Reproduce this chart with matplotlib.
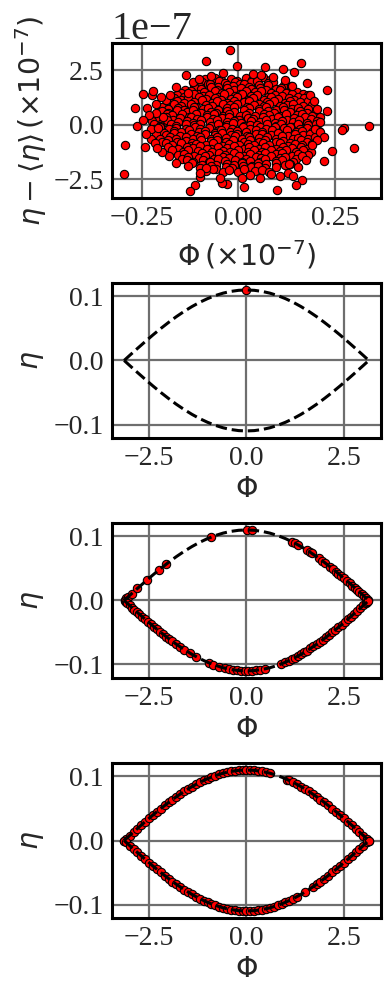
import numpy as np
import matplotlib
matplotlib.use("Agg")
import matplotlib.pyplot as plt

plt.rcParams['font.family'] = 'serif'
plt.rcParams['font.serif'] = ['Liberation Serif', 'DejaVu Serif']
plt.rcParams['mathtext.fontset'] = 'dejavusans'

# ---------------- panel 1 : fluctuation cloud (eta in units of 1e-7) ----------------
noise_phi = [
    -0.085, -0.061, -0.045, -0.018, -0.004, 0.021, 0.037, 0.064, 0.083,
    -0.094, -0.078, -0.050, -0.034, -0.009, 0.006, 0.032, 0.050, 0.077, 0.091,
    -0.114, -0.098, -0.072, -0.053, -0.028, -0.013, 0.014, 0.028, 0.053, 0.076, 0.119, 0.137,
    -0.138, -0.111, -0.095, -0.070, -0.056, -0.029, -0.010, 0.008, 0.033, 0.057, 0.072, 0.098, 0.112, 0.138,
    -0.149, -0.123, -0.105, -0.088, -0.061, -0.041, -0.024, 0.004, 0.020, 0.044, 0.059, 0.084, 0.108, 0.124, 0.151, 0.167,
    -0.157, -0.140, -0.114, -0.091, -0.076, -0.053, -0.036, -0.008, 0.010, 0.034, 0.050, 0.078, 0.095, 0.114, 0.140, 0.154, 0.180,
    -0.165, -0.148, -0.129, -0.102, -0.084, -0.059, -0.045, -0.019, -0.002, 0.025, 0.039, 0.066, 0.085, 0.104, 0.131, 0.145, 0.170, 0.188,
    -0.175, -0.158, -0.140, -0.113, -0.094, -0.069, -0.055, -0.030, -0.012, 0.014, 0.028, 0.055, 0.074, 0.094, 0.120, 0.134, 0.159, 0.181,
    -0.189, -0.165, -0.149, -0.122, -0.108, -0.083, -0.067, -0.040, -0.021, -0.002, 0.024, 0.041, 0.067, 0.081, 0.107, 0.126, 0.143, 0.169, 0.192,
    -0.198, -0.181, -0.155, -0.141, -0.115, -0.091, -0.077, -0.053, -0.030, -0.012, 0.014, 0.028, 0.055, 0.072, 0.099, 0.115, 0.140, 0.155, 0.181,
    -0.198, -0.182, -0.157, -0.133, -0.118, -0.095, -0.071, -0.057, -0.030, -0.012, 0.015, 0.029, 0.053, 0.076, 0.093, 0.119, 0.133, 0.159, 0.178, 0.202,
    -0.209, -0.185, -0.171, -0.145, -0.127, -0.109, -0.081, -0.063, -0.040, -0.024, 0.004, 0.019, 0.043, 0.066, 0.080, 0.107, 0.125, 0.151, 0.166, 0.192,
    -0.213, -0.187, -0.168, -0.151, -0.123, -0.106, -0.080, -0.065, -0.041, -0.024, 0.002, 0.025, 0.038, 0.063, 0.087, 0.103, 0.127, 0.144, 0.172, 0.188, 0.212,
    -0.222, -0.197, -0.183, -0.156, -0.133, -0.118, -0.095, -0.073, -0.056, -0.028, -0.012, 0.007, 0.034, 0.056, 0.072, 0.096, 0.113, 0.141, 0.158, 0.177, 0.203,
    -0.219, -0.201, -0.174, -0.160, -0.134, -0.115, -0.098, -0.070, -0.053, -0.029, -0.013, 0.014, 0.031, 0.050, 0.074, 0.097, 0.111, 0.138, 0.156, 0.181, 0.201,
    -0.218, -0.202, -0.178, -0.162, -0.135, -0.112, -0.098, -0.075, -0.050, -0.032, -0.015, 0.013, 0.030, 0.057, 0.071, 0.096, 0.118, 0.133, 0.161, 0.178, 0.200,
    -0.208, -0.193, -0.165, -0.147, -0.128, -0.101, -0.085, -0.061, -0.045, -0.020, -0.004, 0.021, 0.045, 0.061, 0.088, 0.102, 0.127, 0.149, 0.164, 0.192, 0.209,
    -0.212, -0.186, -0.167, -0.151, -0.122, -0.106, -0.087, -0.061, -0.042, -0.018, -0.004, 0.022, 0.046, 0.061, 0.086, 0.102, 0.130, 0.146, 0.169, 0.185,
    -0.201, -0.176, -0.162, -0.135, -0.116, -0.098, -0.070, -0.055, -0.031, -0.008, 0.010, 0.028, 0.055, 0.074, 0.098, 0.114, 0.141, 0.155, 0.180, 0.198,
    -0.196, -0.182, -0.157, -0.135, -0.120, -0.095, -0.071, -0.055, -0.031, -0.014, 0.015, 0.031, 0.055, 0.070, 0.098, 0.116, 0.135, 0.162, 0.178,
    -0.186, -0.170, -0.147, -0.122, -0.109, -0.082, -0.064, -0.039, -0.024, 0.001, 0.025, 0.040, 0.063, 0.080, 0.107, 0.129, 0.146, 0.165, 0.191,
    -0.181, -0.155, -0.132, -0.116, -0.098, -0.070, -0.052, -0.029, -0.012, 0.015, 0.029, 0.054, 0.070, 0.098, 0.115, 0.139, 0.162, 0.177,
    -0.170, -0.143, -0.129, -0.104, -0.081, -0.067, -0.040, -0.021, -0.001, 0.026, 0.041, 0.061, 0.086, 0.109, 0.123, 0.150, 0.169, 0.188,
    -0.155, -0.141, -0.115, -0.093, -0.076, -0.049, -0.035, -0.011, 0.014, 0.031, 0.055, 0.070, 0.099, 0.114, 0.138, 0.155, 0.181,
    -0.146, -0.129, -0.101, -0.086, -0.063, -0.039, -0.025, 0.002, 0.020, 0.046, 0.060, 0.085, 0.107, 0.122, 0.150, 0.166,
    -0.133, -0.117, -0.090, -0.076, -0.051, -0.035, -0.008, 0.011, 0.031, 0.056, 0.070, 0.097, 0.114, 0.141,
    -0.119, -0.093, -0.074, -0.057, -0.029, -0.010, 0.009, 0.036, 0.052, 0.071, 0.097, 0.120, 0.135,
    -0.098, -0.071, -0.057, -0.032, -0.016, 0.012, 0.034, 0.051, 0.070, 0.098,
    -0.083, -0.065, -0.039, -0.025, 0.000, 0.016, 0.044, 0.062, 0.081,
    # outer points
    -0.022, -0.083, -0.003, 0.163, 0.070, 0.115, 0.145, -0.135, -0.039, 0.039,
    -0.116, -0.101, 0.139, 0.178, 0.230, 0.185, 0.204, 0.231, 0.212, 0.338,
    0.275, 0.268, 0.199, 0.212, 0.221, 0.205, 0.299, 0.244, 0.223, 0.176,
    0.156, 0.132, 0.129, 0.142, 0.108, 0.165, 0.149, 0.101, 0.056, 0.016,
    0.011, -0.030, -0.043, -0.048, -0.082, -0.099, -0.112, -0.125, -0.130, -0.160,
    -0.180, -0.197, -0.241, -0.294, -0.295, -0.225, -0.225, -0.208, -0.262, -0.195,
    -0.212, -0.235, -0.268, -0.186, -0.177, -0.130, -0.160, -0.223, -0.220, -0.246,
    -0.230, -0.245, -0.238, -0.215, -0.212, -0.200, -0.210, 0.190, 0.195, 0.060,
    -0.070, 0.090, 0.120, -0.100, 0.030, 0.085,
]
noise_eta = [
    2.10, 2.16, 2.05, 2.13, 2.03, 2.14, 2.08, 2.18, 2.06,
    1.98, 1.90, 2.01, 1.93, 1.99, 1.89, 1.96, 2.00, 1.91, 1.97,
    1.85, 1.76, 1.87, 1.74, 1.82, 1.77, 1.86, 1.73, 1.83, 1.81, 1.84, 1.78,
    1.61, 1.70, 1.63, 1.72, 1.59, 1.68, 1.60, 1.71, 1.64, 1.69, 1.58, 1.67, 1.70, 1.62,
    1.47, 1.55, 1.44, 1.52, 1.57, 1.46, 1.53, 1.43, 1.56, 1.49, 1.54, 1.45, 1.58, 1.48, 1.51, 1.44,
    1.39, 1.30, 1.41, 1.32, 1.37, 1.29, 1.40, 1.33, 1.42, 1.31, 1.36, 1.28, 1.38, 1.34, 1.41, 1.30, 1.37,
    1.24, 1.14, 1.22, 1.27, 1.17, 1.25, 1.13, 1.21, 1.26, 1.16, 1.23, 1.15, 1.28, 1.18, 1.24, 1.14, 1.22, 1.19,
    1.02, 1.11, 1.00, 1.07, 1.12, 1.01, 1.08, 0.99, 1.10, 1.03, 1.09, 0.98, 1.06, 1.11, 1.00, 1.08, 1.04, 1.10,
    0.85, 0.94, 0.88, 0.97, 0.84, 0.93, 0.86, 0.96, 0.89, 0.95, 0.83, 0.92, 0.87, 0.98, 0.85, 0.91, 0.96, 0.86, 0.93,
    0.80, 0.71, 0.77, 0.69, 0.82, 0.72, 0.79, 0.68, 0.76, 0.81, 0.70, 0.78, 0.73, 0.80, 0.69, 0.82, 0.74, 0.79, 0.72,
    0.63, 0.55, 0.66, 0.58, 0.67, 0.56, 0.61, 0.53, 0.65, 0.57, 0.68, 0.54, 0.62, 0.64, 0.55, 0.67, 0.59, 0.63, 0.54, 0.65,
    0.40, 0.48, 0.43, 0.51, 0.38, 0.49, 0.44, 0.50, 0.41, 0.52, 0.42, 0.47, 0.39, 0.49, 0.46, 0.40, 0.51, 0.43, 0.48, 0.41,
    0.26, 0.36, 0.23, 0.32, 0.35, 0.27, 0.37, 0.25, 0.31, 0.34, 0.24, 0.33, 0.28, 0.38, 0.26, 0.35, 0.23, 0.32, 0.36, 0.27, 0.34,
    0.19, 0.10, 0.21, 0.12, 0.16, 0.09, 0.20, 0.13, 0.22, 0.11, 0.17, 0.08, 0.18, 0.14, 0.20, 0.09, 0.19, 0.12, 0.21, 0.10, 0.17,
    0.05, -0.04, 0.02, -0.07, 0.06, -0.01, 0.04, -0.06, 0.03, -0.02, 0.07, -0.05, 0.01, -0.03, 0.06, -0.04, 0.02, -0.08, 0.04, -0.02, 0.05,
    -0.19, -0.10, -0.21, -0.13, -0.18, -0.08, -0.20, -0.14, -0.22, -0.11, -0.17, -0.09, -0.19, -0.12, -0.21, -0.10, -0.16, -0.11, -0.20, -0.13, -0.18,
    -0.26, -0.36, -0.28, -0.33, -0.23, -0.35, -0.29, -0.37, -0.25, -0.32, -0.27, -0.34, -0.24, -0.31, -0.26, -0.36, -0.22, -0.33, -0.28, -0.35, -0.27,
    -0.40, -0.48, -0.39, -0.50, -0.43, -0.52, -0.41, -0.46, -0.39, -0.49, -0.42, -0.51, -0.44, -0.40, -0.47, -0.38, -0.50, -0.42, -0.48, -0.41,
    -0.64, -0.55, -0.67, -0.58, -0.63, -0.54, -0.65, -0.56, -0.61, -0.53, -0.66, -0.57, -0.62, -0.55, -0.64, -0.52, -0.63, -0.59, -0.66, -0.58,
    -0.78, -0.69, -0.80, -0.73, -0.82, -0.71, -0.76, -0.70, -0.81, -0.72, -0.79, -0.68, -0.77, -0.70, -0.80, -0.74, -0.82, -0.71, -0.78,
    -0.85, -0.93, -0.83, -0.96, -0.88, -0.94, -0.84, -0.97, -0.87, -0.91, -0.86, -0.95, -0.82, -0.92, -0.85, -0.96, -0.89, -0.94, -0.87,
    -1.01, -1.11, -1.03, -1.08, -0.98, -1.10, -1.00, -1.07, -0.99, -1.12, -1.04, -1.09, -1.02, -1.11, -1.00, -1.06, -1.01, -1.10,
    -1.17, -1.26, -1.15, -1.22, -1.13, -1.24, -1.19, -1.27, -1.16, -1.23, -1.14, -1.25, -1.18, -1.21, -1.15, -1.26, -1.17, -1.24,
    -1.40, -1.32, -1.41, -1.31, -1.37, -1.28, -1.39, -1.30, -1.42, -1.33, -1.38, -1.29, -1.36, -1.31, -1.41, -1.32, -1.39,
    -1.55, -1.46, -1.52, -1.43, -1.56, -1.47, -1.54, -1.44, -1.57, -1.48, -1.53, -1.45, -1.51, -1.46, -1.55, -1.42,
    -1.61, -1.70, -1.63, -1.72, -1.59, -1.68, -1.60, -1.71, -1.64, -1.69, -1.58, -1.67, -1.62, -1.70,
    -1.76, -1.85, -1.73, -1.83, -1.78, -1.86, -1.75, -1.87, -1.77, -1.81, -1.74, -1.84, -1.79,
    -1.98, -1.90, -2.01, -1.93, -1.99, -1.89, -1.96, -1.91, -2.00, -1.92,
    -2.13, -2.05, -2.17, -2.08, -2.15, -2.04, -2.12, -2.06, -2.16,
    # outer points
    3.44, 2.95, 2.70, 2.84, 2.67, 2.55, 2.45, 2.27, 2.37, 2.33,
    1.97, 2.13, 1.77, 1.91, 1.59, 1.36, 0.74, 0.64, 0.12, -0.04,
    -0.14, -0.26, -0.19, -0.34, -0.57, -0.72, -1.06, -1.19, -1.65, -1.62,
    -1.96, -1.81, -2.20, -2.34, -2.35, -2.55, -2.76, -3.00, -2.46, -2.86,
    -2.43, -2.73, -2.66, -2.43, -2.00, -2.40, -2.75, -3.04, -1.90, -1.77,
    -1.43, -1.24, -1.00, -0.93, -2.27, -0.65, -0.19, -0.14, -0.05, 0.35,
    0.54, 0.78, 0.76, 1.12, 1.39, 1.48, 1.74, 1.37, 1.57, 1.42,
    0.45, 0.20, -0.40, -0.85, 0.95, 1.30, -1.05, -0.95, 1.10, 2.30,
    2.25, 2.20, 2.05, -2.20, -2.30, -2.25,
]

# ---------------- separatrix (dashed curve, panels 2-4) ----------------
sep_phi = [-3.14, -3.0, -2.8, -2.6, -2.4, -2.2, -2.0, -1.8, -1.6, -1.4, -1.2, -1.0, -0.8, -0.6, -0.4, -0.2,
           0.0, 0.2, 0.4, 0.6, 0.8, 1.0, 1.2, 1.4, 1.6, 1.8, 2.0, 2.2, 2.4, 2.6, 2.8, 3.0, 3.14]
sep_eta_up = [0.0, 0.0078, 0.0187, 0.0294, 0.0399, 0.0499, 0.0594, 0.0684, 0.0766, 0.0841, 0.0908, 0.0965,
              0.1013, 0.1051, 0.1078, 0.1095, 0.1100, 0.1095, 0.1078, 0.1051, 0.1013, 0.0965, 0.0908, 0.0841,
              0.0766, 0.0684, 0.0594, 0.0499, 0.0399, 0.0294, 0.0187, 0.0078, 0.0]
sep_eta_down = [0.0, -0.0078, -0.0187, -0.0294, -0.0399, -0.0499, -0.0594, -0.0684, -0.0766, -0.0841, -0.0908,
                -0.0965, -0.1013, -0.1051, -0.1078, -0.1095, -0.1100, -0.1095, -0.1078, -0.1051, -0.1013, -0.0965,
                -0.0908, -0.0841, -0.0766, -0.0684, -0.0594, -0.0499, -0.0399, -0.0294, -0.0187, -0.0078, 0.0]

# ---------------- panel 2 : single state ----------------
p2_phi = [0.0]
p2_eta = [0.110]

# ---------------- panel 3 : partly spread along separatrix ----------------
p3_phi = [
    -3.12, -3.08, -3.03, -2.95, -2.80, -2.55, -2.25, -2.06, -0.91, 0.02, 0.15,
    1.18, 1.25, 1.32, 1.55, 1.62, 1.68, 1.85, 1.95, 2.02, 2.15, 2.22, 2.30, 2.36, 2.42, 2.50,
    2.58, 2.65, 2.72, 2.78, 2.84, 2.90, 2.96, 3.02, 3.08, 3.12,
    -3.13, -3.10, -3.06, -3.00, -2.94, -2.88, -2.82, -2.75, -2.68, -2.60, -2.53, -2.45, -2.38,
    -2.30, -2.22, -2.14, -2.06, -1.98, -1.90, -1.80, -1.70, -1.60, -1.45, -1.30, -0.95, -0.85,
    -0.70, -0.55, -0.45, -0.35, -0.25, -0.15, -0.05, 0.05, 0.15, 0.25, 0.35, 0.48,
    0.88, 1.00, 1.08, 1.16, 1.24, 1.32, 1.40, 1.48, 1.56, 1.64, 1.72, 1.80, 1.88, 1.96, 2.04,
    2.12, 2.20, 2.28, 2.36, 2.44, 2.52, 2.60, 2.68, 2.76, 2.84, 2.92, 3.00, 3.06, 3.10, 3.13,
]
p3_eta = [
    0.0012, 0.0034, 0.0061, 0.0105, 0.0187, 0.0321, 0.0474, 0.0566, 0.0988, 0.1100, 0.1097,
    0.0914, 0.0892, 0.0869, 0.0786, 0.0758, 0.0734, 0.0662, 0.0618, 0.0585, 0.0523, 0.0489, 0.0449, 0.0419, 0.0388, 0.0347,
    0.0305, 0.0268, 0.0230, 0.0198, 0.0165, 0.0133, 0.0100, 0.0067, 0.0034, 0.0012,
    -0.0006, -0.0023, -0.0045, -0.0078, -0.0111, -0.0143, -0.0176, -0.0214, -0.0252, -0.0294, -0.0332, -0.0373, -0.0409,
    -0.0449, -0.0489, -0.0528, -0.0566, -0.0604, -0.0640, -0.0684, -0.0726, -0.0766, -0.0823, -0.0876, -0.0978, -0.1002,
    -0.1033, -0.1059, -0.1072, -0.1083, -0.1091, -0.1097, -0.1100, -0.1100, -0.1097, -0.1091, -0.1083, -0.1068,
    -0.0995, -0.0965, -0.0943, -0.0920, -0.0895, -0.0869, -0.0841, -0.0812, -0.0782, -0.0750, -0.0718, -0.0684, -0.0649, -0.0613, -0.0576,
    -0.0538, -0.0499, -0.0459, -0.0419, -0.0378, -0.0336, -0.0294, -0.0252, -0.0209, -0.0165, -0.0122, -0.0078, -0.0045, -0.0023, -0.0006,
]

# ---------------- panel 4 : fully spread along separatrix ----------------
p4_phi = [
    -3.14, -3.1, -3.0, -2.9, -2.8, -2.7, -2.6, -2.5, -2.4, -2.3, -2.2, -2.1, -2.0, -1.9, -1.8, -1.7, -1.6,
    -1.5, -1.4, -1.3, -1.2, -1.1, -1.0, -0.9, -0.8, -0.7, -0.6, -0.5, -0.4, -0.3, -0.2, -0.1, 0.0,
    0.1, 0.2, 0.3, 0.4, 0.5, 0.6,
    1.05, 1.1, 1.2, 1.3, 1.4, 1.5, 1.6, 1.7, 1.8, 1.9, 2.0, 2.1, 2.2, 2.3, 2.4, 2.5, 2.6, 2.7, 2.8, 2.9,
    3.0, 3.1, 3.14,
    -3.14, -3.1, -3.0, -2.9, -2.8, -2.7, -2.6, -2.5, -2.4, -2.3, -2.2, -2.1, -2.0, -1.9, -1.8, -1.7, -1.6,
    -1.5, -1.4, -1.3, -1.2, -1.1, -1.0, -0.9, -0.8, -0.7, -0.6, -0.5, -0.4, -0.3, -0.2, -0.1, 0.0,
    0.1, 0.2, 0.3, 0.4, 0.5, 0.6, 0.7, 0.8, 0.9, 1.0, 1.1, 1.2, 1.3, 1.5, 1.7, 1.8, 1.9, 2.0, 2.1,
    2.2, 2.3, 2.4, 2.5, 2.6, 2.7, 2.8, 2.9, 3.0, 3.1, 3.14,
]
p4_eta = [
    0.0, 0.0023, 0.0078, 0.0133, 0.0187, 0.0241, 0.0294, 0.0347, 0.0399, 0.0449, 0.0499, 0.0547, 0.0594, 0.0640, 0.0684, 0.0726, 0.0766,
    0.0805, 0.0841, 0.0876, 0.0908, 0.0938, 0.0965, 0.0990, 0.1013, 0.1033, 0.1051, 0.1066, 0.1078, 0.1088, 0.1095, 0.1099, 0.1100,
    0.1099, 0.1095, 0.1088, 0.1078, 0.1066, 0.1051,
    0.0952, 0.0938, 0.0908, 0.0876, 0.0841, 0.0805, 0.0766, 0.0726, 0.0684, 0.0640, 0.0594, 0.0547, 0.0499, 0.0449, 0.0399, 0.0347, 0.0294, 0.0241, 0.0187, 0.0133,
    0.0078, 0.0023, 0.0,
    0.0, -0.0023, -0.0078, -0.0133, -0.0187, -0.0241, -0.0294, -0.0347, -0.0399, -0.0449, -0.0499, -0.0547, -0.0594, -0.0640, -0.0684, -0.0726, -0.0766,
    -0.0805, -0.0841, -0.0876, -0.0908, -0.0938, -0.0965, -0.0990, -0.1013, -0.1033, -0.1051, -0.1066, -0.1078, -0.1088, -0.1095, -0.1099, -0.1100,
    -0.1099, -0.1095, -0.1088, -0.1078, -0.1066, -0.1051, -0.1033, -0.1013, -0.0990, -0.0965, -0.0938, -0.0908, -0.0876, -0.0805, -0.0726, -0.0684, -0.0640, -0.0594, -0.0547,
    -0.0499, -0.0449, -0.0399, -0.0347, -0.0294, -0.0241, -0.0187, -0.0133, -0.0078, -0.0023, 0.0,
]

phase_ticks = [-2.5, 0.0, 2.5]
eta_ticks = [-0.1, 0.0, 0.1]

text_col = '#262626'
grid_col = '#6e6e6e'


def style(ax):
    ax.set_axisbelow(True)
    ax.grid(True, color=grid_col, linewidth=1.6)
    for sp in ax.spines.values():
        sp.set_color('black')
        sp.set_linewidth(2.2)
    ax.tick_params(length=0, labelsize=20, pad=6, colors=text_col)


fig = plt.figure(figsize=(3.9, 9.9), dpi=100)

# panel 1
ax1 = fig.add_axes([0.287, 0.800, 0.690, 0.1566])
style(ax1)
ax1.scatter(noise_phi, np.array(noise_eta) * 1e-7, s=36, c='red', edgecolors='black', linewidths=0.8, zorder=3)
ax1.set_xticks([-0.25, 0.0, 0.25])
ax1.set_yticks([-2.5e-7, 0.0, 2.5e-7])
ax1.yaxis.get_offset_text().set_fontsize(29)
ax1.yaxis.get_offset_text().set_color(text_col)
ax1.set_xlabel(r'$\Phi\,(\times10^{-7})$', fontsize=20.5, color=text_col, labelpad=5)
ax1.set_ylabel(r'$\eta-\langle\eta\rangle\,(\times10^{-7})$', fontsize=20.5, color=text_col, labelpad=3)

bottoms = [0.5576, 0.3152, 0.0727]
points = [(p2_phi, p2_eta), (p3_phi, p3_eta), (p4_phi, p4_eta)]
for b, (px, py) in zip(bottoms, points):
    ax = fig.add_axes([0.287, b, 0.690, 0.1566])
    style(ax)
    ax.scatter(px, py, s=36, c='red', edgecolors='black', linewidths=0.8, zorder=3)
    # separatrix drawn over the markers
    ax.plot(sep_phi, sep_eta_up, '--', color='black', linewidth=2.2, zorder=4)
    ax.plot(sep_phi, sep_eta_down, '--', color='black', linewidth=2.2, zorder=4)
    ax.set_xticks(phase_ticks)
    ax.set_yticks(eta_ticks)
    ax.set_xlabel(r'$\Phi$', fontsize=20.5, color=text_col, labelpad=5)
    ax.set_ylabel(r'$\eta$', fontsize=20.5, color=text_col, labelpad=5)

fig.savefig('out.png', dpi=100)
